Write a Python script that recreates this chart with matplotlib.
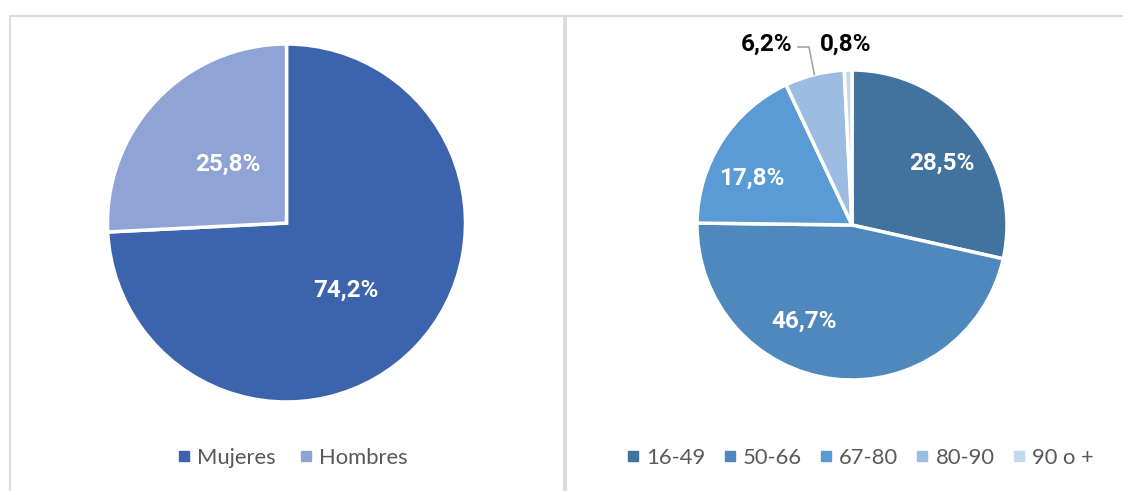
import matplotlib
matplotlib.use("Agg")
import matplotlib.pyplot as plt
from matplotlib.lines import Line2D
import numpy as np

# ---- data ----
sex_labels = ["Mujeres", "Hombres"]
sex_values = [74.2, 25.8]
sex_colors = ["#3C64AD", "#8FA3D4"]

age_labels = ["16-49", "50-66", "67-80", "80-90", "90 o +"]
age_values = [28.5, 46.7, 17.8, 6.2, 0.8]
age_colors = ["#42729E", "#4E88BD", "#5B9BD5", "#9DBCE2", "#C5D7EE"]

W, H = 1126, 491
fig = plt.figure(figsize=(W / 100, H / 100), dpi=100)
fig.patch.set_facecolor("white")

def fmt(v):
    return f"{v:.1f}".replace(".", ",") + "%"

def px_axes(cx, cy, r):
    return fig.add_axes([(cx - r) / W, (H - cy - r) / H, 2 * r / W, 2 * r / H])

LBL_FONT = "Roboto"
LEG_FONT = "Lato"
LBL_SIZE = 17.5
border = "#D9D9D9"

def hline(x0, x1, y):
    fig.add_artist(Line2D([x0 / W, x1 / W], [1 - y / H, 1 - y / H], color=border, lw=1.3))
def vline(x, y0, y1):
    fig.add_artist(Line2D([x / W, x / W], [1 - y0 / H, 1 - y1 / H], color=border, lw=1.3))

hline(9.5, 564, 15.5)
vline(9.5, 15.5, H + 5)
vline(564, 15.5, H + 5)
hline(566, 1122, 15.5)
vline(566, 15.5, H + 5)

# ---- left pie ----
ax1 = px_axes(286.5, 223, 179)
wedges1, _ = ax1.pie(sex_values, colors=sex_colors, startangle=90, counterclock=False,
                     wedgeprops=dict(edgecolor="white", linewidth=2.5))
ax1.set_xlim(-1, 1); ax1.set_ylim(-1, 1); ax1.set_aspect("auto"); ax1.axis("off")
sex_lbl_pos = [(0.33, -0.375), (-0.33, 0.33)]
for v, (x, y) in zip(sex_values, sex_lbl_pos):
    ax1.text(x, y, fmt(v), ha="center", va="center", color="white",
             fontsize=LBL_SIZE, fontweight="bold", family=LBL_FONT)

# ---- right pie ----
ax2 = px_axes(852, 225, 155)
wedges2, _ = ax2.pie(age_values, colors=age_colors, startangle=90, counterclock=False,
                     wedgeprops=dict(edgecolor="white", linewidth=2.5))
ax2.set_xlim(-1, 1); ax2.set_ylim(-1, 1); ax2.set_aspect("auto"); ax2.axis("off")
age_lbl_pos = [(0.58, 0.40), (-0.31, -0.62), (-0.645, 0.30), (-0.548, 1.165), (-0.039, 1.165)]
age_lbl_col = ["white", "white", "white", "black", "black"]
for v, (x, y), c in zip(age_values, age_lbl_pos, age_lbl_col):
    ax2.text(x, y, fmt(v), ha="center", va="center", color=c,
             fontsize=LBL_SIZE, fontweight="bold", family=LBL_FONT, clip_on=False)

# leader line for the 80-90 label, ending on wedge edge midpoint
w = wedges2[3]
mid = np.deg2rad((w.theta1 + w.theta2) / 2)
ex, ey = np.cos(mid), np.sin(mid)
x_corner = (809 - 852) / 155
y_corner = (225 - 47) / 155
x_start = (798 - 852) / 155
ax2.plot([x_start, x_corner, ex], [y_corner, y_corner, ey], color="#A6A6A6", lw=1.2,
         clip_on=False)

# ---- legends ----
def make_legend(labels, colors, cx, colsp):
    handles = [Line2D([0], [0], marker="s", linestyle="none", markersize=6.5,
                      markerfacecolor=c, markeredgecolor=c) for c in colors]
    leg = fig.legend(handles, labels, loc="center", bbox_to_anchor=(cx / W, 1 - 458 / H),
                     ncol=len(labels), frameon=False, handlelength=0.6, handletextpad=0.3,
                     columnspacing=colsp, prop=dict(family=LEG_FONT, size=15.8))
    for t in leg.get_texts():
        t.set_color("#595959")
    return leg

make_legend(sex_labels, sex_colors, 292.5, 1.05)
make_legend(age_labels, age_colors, 860, 0.8)

fig.savefig("out.png", dpi=100, facecolor="white")
